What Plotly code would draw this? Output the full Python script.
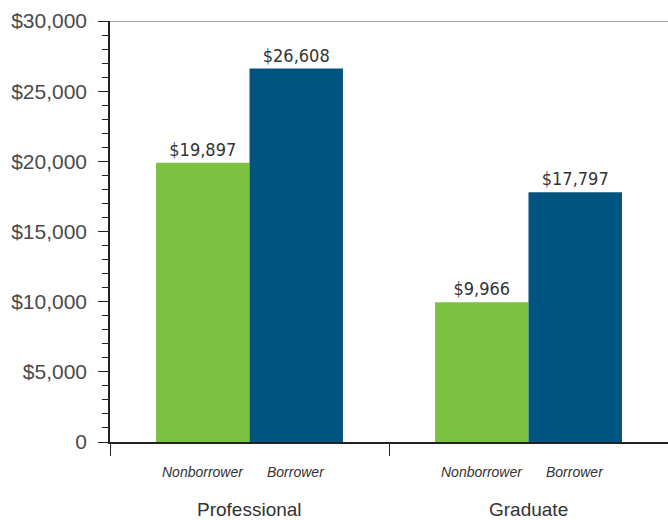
import plotly.graph_objects as go

categories = ["Professional", "Graduate"]
series_names = ["Nonborrower", "Borrower"]
nonborrower = [19897, 9966]
borrower = [26608, 17797]
ytick_vals = [0, 5000, 10000, 15000, 20000, 25000, 30000]
ytick_text = ["0", "$5,000", "$10,000", "$15,000", "$20,000", "$25,000", "$30,000"]

GREEN = "#7CC142"
BLUE = "#00547F"
BARGAP = 0.33
VAL_FONT = dict(family="DejaVu Sans Condensed, Liberation Sans Narrow, Arial Narrow, sans-serif", size=18, color="#333333")

fig = go.Figure()
fig.add_trace(go.Bar(x=categories, y=nonborrower, name=series_names[0], marker=dict(color=GREEN, line=dict(width=0)),
                     texttemplate="$%{y:,}", textposition="outside", textfont=VAL_FONT, cliponaxis=False))
fig.add_trace(go.Bar(x=categories, y=borrower, name=series_names[1], marker=dict(color=BLUE, line=dict(width=0)),
                     texttemplate="$%{y:,}", textposition="outside", textfont=VAL_FONT, cliponaxis=False))

annotations = []
bw = (1 - BARGAP) / 2
for i, cat in enumerate(categories):
    for j, s in enumerate(series_names):
        annotations.append(dict(x=i + (j - 0.5) * bw, y=0, xref="x", yref="paper", yanchor="top",
                                yshift=-20, text="<i>" + s + "</i>", showarrow=False,
                                font=dict(family="Liberation Sans, Arial, sans-serif", size=14, color="#333333")))
    annotations.append(dict(x=i, y=0, xref="x", yref="paper", yanchor="top", yshift=-55, text=cat,
                            showarrow=False, font=dict(family="Liberation Sans, Arial, sans-serif", size=19, color="#333333")))

fig.update_layout(
    width=668, height=520,
    margin=dict(l=110, r=0, t=21, b=78),
    paper_bgcolor="white", plot_bgcolor="white",
    barmode="group", bargap=BARGAP, bargroupgap=0,
    showlegend=False,
    annotations=annotations,
    shapes=[dict(type="line", xref="paper", yref="y", x0=-0.018, x1=1, y0=30000, y1=30000,
                 line=dict(color="#8a8a8a", width=1.5), layer="below")],
    xaxis=dict(type="category", range=[-0.5, 1.5], tickson="boundaries", ticks="outside", ticklen=12,
               tickcolor="#222222", tickwidth=1, showticklabels=False, showline=True, linecolor="#222222",
               linewidth=1.5, showgrid=False, zeroline=False),
    yaxis=dict(range=[0, 30000], tickvals=ytick_vals, ticktext=ytick_text, ticks="outside", ticklen=10,
               tickcolor="#222222", tickwidth=1, showline=True, linecolor="#222222", linewidth=1.5,
               showgrid=False, zeroline=False, ticklabelstandoff=7,
               tickfont=dict(family="Liberation Sans, Arial, sans-serif", size=21, color="#4a4a4a"),
               minor=dict(dtick=1000, ticks="outside", ticklen=6, tickcolor="#222222", tickwidth=1, showgrid=False)),
)

fig.write_html("out.html", config={"displayModeBar": False},
               post_script="document.body.style.margin='0';document.body.style.padding='0';")
